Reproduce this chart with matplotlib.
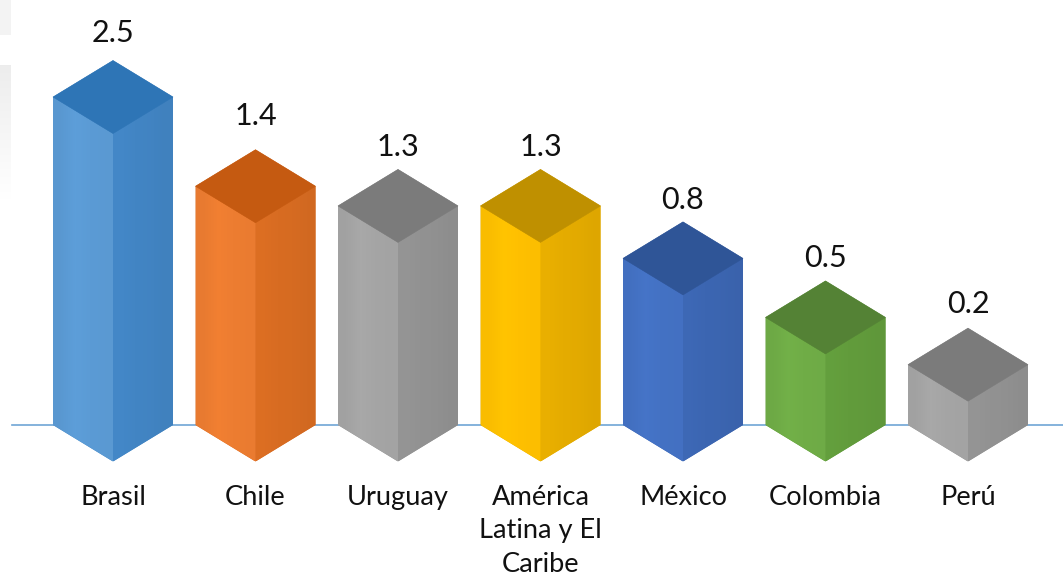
import numpy as np
import matplotlib
matplotlib.use("Agg")
import matplotlib.pyplot as plt
from matplotlib.patches import Polygon
from matplotlib.colors import to_rgb

categories = ["Brasil", "Chile", "Uruguay", "América\nLatina y El\nCaribe", "México", "Colombia", "Perú"]
value_labels = ["2.5", "1.4", "1.3", "1.3", "0.8", "0.5", "0.2"]
# drawn heights (the source's bars are not proportional to its rounded labels)
drawn_heights = [2.50, 1.82, 1.67, 1.67, 1.27, 0.82, 0.46]
left_colors = ["#5B9BD5", "#ED7D31", "#A5A5A5", "#FFC000", "#4472C4", "#70AD47", "#A5A5A5"]
right_colors = ["#4285C4", "#D86C22", "#929292", "#E5AC00", "#3C66B2", "#629C3C", "#929292"]
top_colors = ["#2E75B6", "#C55A11", "#7B7B7B", "#BF9000", "#2F5597", "#548235", "#7B7B7B"]
label_gap_px = [29, 35, 23, 23, 23, 24, 25]

W, H = 1063, 577
PX_X = 142.5      # pixels per category
PX_Y = 131.2      # pixels per y unit
X0, Y0 = 113, 425

plt.rcParams["font.family"] = ["Lato", "DejaVu Sans"]
fig = plt.figure(figsize=(W / 100, H / 100), dpi=100, facecolor="white")
ax = fig.add_axes([0, 0, 1, 1])
xlim = (-X0 / PX_X, (W - X0) / PX_X)
ylim = (-(H - Y0) / PX_Y, Y0 / PX_Y)
ax.set_xlim(*xlim)
ax.set_ylim(*ylim)
ax.axis("off")

half_w = 60 / PX_X
depth = 36.5 / PX_Y


def shade(c, f):
    return np.clip(np.array(to_rgb(c)) * f, 0, 1)


def gradient_face(pts, base, factors, z):
    """Fill a polygon with a soft horizontal gradient of a base colour."""
    pts = np.array(pts)
    poly = Polygon(pts, closed=True, facecolor="none", edgecolor="none", transform=ax.transData)
    ax.add_patch(poly)
    img = np.array([[shade(base, f) for f in factors]])
    im = ax.imshow(img, extent=(pts[:, 0].min(), pts[:, 0].max(), pts[:, 1].min(), pts[:, 1].max()),
                   aspect="auto", interpolation="bilinear", zorder=z)
    im.set_clip_path(poly)


# faint remnant of the slide background at the left edge
strip = np.ones((200, 1, 4))
strip[..., :3] = 0.90
strip[:, 0, 3] = np.concatenate([np.full(35, 0.45), np.full(30, 0.0),
                                 np.linspace(0.7, 0.0, 135)])
ax.imshow(strip, extent=(xlim[0], xlim[0] + 11 / PX_X, (Y0 - 200) / PX_Y, ylim[1]),
          aspect="auto", interpolation="bilinear", zorder=0)

# baseline
ax.plot([xlim[0] + 12 / PX_X, xlim[1]], [0, 0], color="#6FA5D6", lw=1.2, zorder=1)

for i, (h, cl, cr, ct) in enumerate(zip(drawn_heights, left_colors, right_colors, top_colors)):
    # solid body under the gradients hides anti-aliasing seams between faces
    ax.add_patch(Polygon([(i - half_w, h), (i, h + depth), (i + half_w, h), (i + half_w, 0),
                          (i, -depth), (i - half_w, 0)],
                         closed=True, facecolor=cr, edgecolor="none", zorder=1.5))
    gradient_face([(i - half_w, h), (i, h - depth), (i, -depth), (i - half_w, 0)],
                  cl, [0.98, 1.02, 1.0, 0.99], 2)
    gradient_face([(i, h - depth), (i + half_w, h), (i + half_w, 0), (i, -depth)],
                  cr, [1.02, 1.0, 0.99, 0.97], 2)
    ax.add_patch(Polygon([(i - half_w, h), (i, h + depth), (i + half_w, h), (i, h - depth)],
                         closed=True, facecolor=ct, edgecolor=ct, lw=0.4, zorder=3))
    ax.annotate(value_labels[i], xy=(i, h + depth), xytext=(0, (label_gap_px[i] - 1) * 0.72),
                textcoords="offset points", ha="center", va="center",
                fontsize=22, color="#111111", zorder=4)
    ax.annotate(categories[i], xy=(i, 0), xytext=(0, -(485 - Y0) * 0.72),
                textcoords="offset points", ha="center", va="top",
                fontsize=19.6, color="#111111", linespacing=1.42, zorder=4)

ax.set_xlim(*xlim)
ax.set_ylim(*ylim)
fig.savefig("out.png", dpi=100, facecolor="white")
